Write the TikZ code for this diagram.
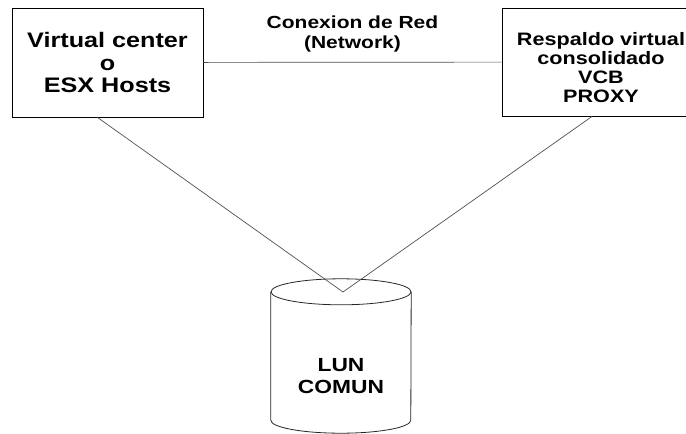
\documentclass[tikz,border=0pt]{standalone}
\usepackage{fontspec}
\newfontfamily\diagfont[FakeStretch=1.2]{Liberation Sans}
\usetikzlibrary{positioning,shapes.geometric}
\definecolor{linegray}{HTML}{505050}

\begin{document}
\begin{tikzpicture}[
    x=1pt, y=-1pt,
    hostbox/.style={draw=black, line width=0.9pt, align=center, inner sep=0pt},
    tank/.style={minimum width=140pt, minimum height=154pt, inner sep=0pt},
    tankline/.style={draw=black!85, line width=0.8pt},
    link/.style={draw=linegray, line width=0.7pt}
  ]
    \clip (0,0) rectangle (686,434);

    \node[hostbox, minimum width=191pt, minimum height=109pt,
      font=\diagfont\bfseries\fontsize{21}{22.5}\selectfont] (hosts) at (107.5,62.5) {Virtual center\\o\\ESX Hosts};
    \node[hostbox, minimum width=198pt, minimum height=108pt,
      font=\diagfont\bfseries\fontsize{18}{19}\selectfont] (vcb) at (601,62) {\rule{0pt}{25pt}Respaldo virtual\\consolidado\\VCB\\PROXY};

    % storage drum
    \node[tank, label={[yshift=-20pt, align=center, font=\diagfont\bfseries\fontsize{19}{22}\selectfont]center:LUN\\COMUN}] (lun) at (341,356) {};
    \draw[tankline] ([yshift=-13pt]lun.north) ellipse [x radius=70pt, y radius=13pt];
    \draw[tankline] ([yshift=-13pt]lun.north west) -- ([yshift=13pt]lun.south west)
      arc[start angle=180, end angle=360, x radius=70pt, y radius=13pt] -- ([yshift=-13pt]lun.north east);
    \coordinate (apex) at (343,292);

    \draw[link] (hosts) -- node[above=6pt, align=center, font=\diagfont\bfseries\fontsize{17.5}{20}\selectfont] (net) {Conexion de Red\\(Network)} (vcb);
    \draw[link] ([xshift=-10pt]hosts.south) -- (apex) -- ([xshift=-9pt]vcb.south);
  \end{tikzpicture}
\end{document}
